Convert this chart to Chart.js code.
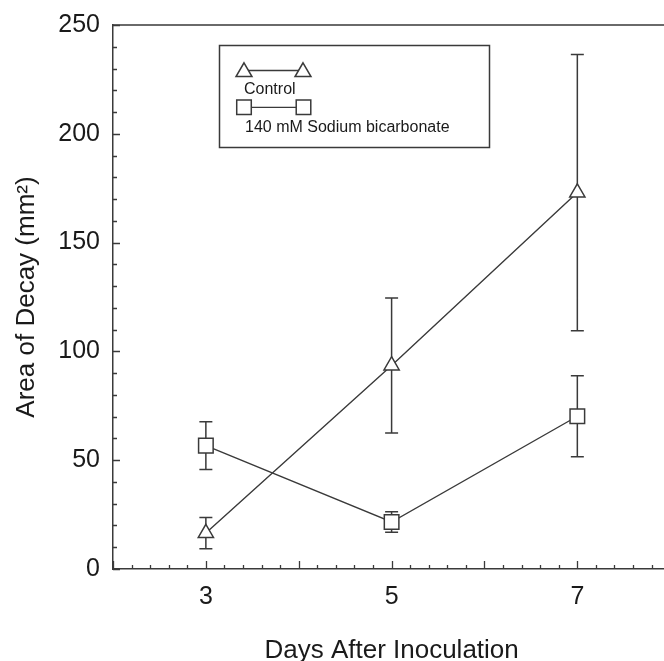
<!DOCTYPE html>
<html><head><meta charset="utf-8">
<script src="https://cdn.jsdelivr.net/npm/chart.js@4/dist/chart.umd.min.js"></script>
<style>
html,body{margin:0;padding:0;overflow:hidden;background:#fff;width:664px;height:661px}
#wrap{position:relative;width:682px;height:661px}
canvas{display:block}
</style></head><body>
<div id="wrap"><canvas id="c" width="682" height="661"></canvas></div>
<script>
// ---- data ----
const days = [3, 5, 7];
const xTickLabels = [3, 5, 7];
const yTickValues = [0, 50, 100, 150, 200, 250];
const controlMean = [16.5, 93.5, 173];
const controlSD = [7.2, 31, 63.5];
const bicarbMean = [56.7, 21.6, 70.2];
const bicarbSD = [11, 4.7, 18.6];
const seriesNames = ['Control', '140 mM Sodium bicarbonate'];
const xTitle = 'Days After Inoculation';
const yTitle = 'Area of Decay (mm\u00B2)';

const FONT = "'Liberation Sans', Arial, Helvetica, sans-serif";
const INK = '#1a1a1a';
const LINE = '#3a3a3a';

const toPts = (xs, ys) => xs.map((x, i) => ({x: x, y: ys[i]}));

const errorBars = {
  id: 'errorBars',
  beforeDatasetsDraw(chart) {
    const {ctx, scales: {x, y}} = chart;
    chart.data.datasets.forEach(ds => {
      ctx.save();
      ctx.strokeStyle = LINE;
      ctx.lineWidth = 1.5;
      ctx.beginPath();
      ds.data.forEach((p, j) => {
        const px = x.getPixelForValue(p.x);
        const top = y.getPixelForValue(p.y + ds.sd[j]);
        const bot = y.getPixelForValue(p.y - ds.sd[j]);
        ctx.moveTo(px, top); ctx.lineTo(px, bot);
        ctx.moveTo(px - 6.5, top); ctx.lineTo(px + 6.5, top);
        ctx.moveTo(px - 6.5, bot); ctx.lineTo(px + 6.5, bot);
      });
      ctx.stroke();
      ctx.restore();
    });
  }
};

const frameTicks = {
  id: 'frameTicks',
  beforeDatasetsDraw(chart) {
    const {ctx, chartArea: a, scales: {x, y}} = chart;
    ctx.save();
    ctx.strokeStyle = LINE;
    ctx.lineWidth = 1.5;
    ctx.beginPath();
    ctx.moveTo(a.left, a.top); ctx.lineTo(a.right, a.top); ctx.lineTo(a.right, a.bottom);
    ctx.stroke();
    ctx.lineWidth = 1.3;
    ctx.beginPath();
    const nx = Math.round((x.max - x.min) / 0.2);
    for (let k = 0; k <= nx; k++) {
      const v = x.min + k * 0.2;
      const px = Math.round(x.getPixelForValue(v)) + 0.5;
      const len = (k % 5 === 0) ? 8 : 4;
      ctx.moveTo(px, a.bottom); ctx.lineTo(px, a.bottom - len);
    }
    const ny = Math.round((y.max - y.min) / 10);
    for (let k = 0; k <= ny; k++) {
      const v = y.min + k * 10;
      const py = Math.round(y.getPixelForValue(v)) + 0.5;
      const len = (k % 5 === 0) ? 7 : 4;
      ctx.moveTo(a.left, py); ctx.lineTo(a.left + len, py);
    }
    ctx.stroke();
    ctx.restore();
  }
};

const boxLegend = {
  id: 'boxLegend',
  afterDatasetsDraw(chart) {
    const {ctx} = chart;
    ctx.save();
    ctx.strokeStyle = LINE;
    ctx.lineWidth = 1.5;
    ctx.strokeRect(219.5, 45.5, 270, 102);
    const rows = [{ly: 70.5, ty: 94, x1: 244, x2: 303, tx: 244},
                  {ly: 107.3, ty: 131.5, x1: 244, x2: 303.5, tx: 245}];
    chart.data.datasets.forEach((ds, i) => {
      const r = rows[i];
      ctx.strokeStyle = LINE;
      ctx.lineWidth = 1.3;
      ctx.beginPath(); ctx.moveTo(r.x1, r.ly); ctx.lineTo(r.x2, r.ly); ctx.stroke();
      ctx.fillStyle = '#fff';
      ctx.lineWidth = ds.pointBorderWidth;
      const isTri = ds.pointStyle === 'triangle';
      const opts = {pointStyle: ds.pointStyle, radius: isTri ? 9.2 : ds.pointRadius, borderWidth: ds.pointBorderWidth, rotation: 0};
      const dy = isTri ? 1.5 : 0;
      Chart.helpers.drawPoint(ctx, opts, r.x1, r.ly + dy);
      Chart.helpers.drawPoint(ctx, opts, r.x2, r.ly + dy);
      ctx.fillStyle = INK;
      ctx.font = '16px ' + FONT;
      ctx.textBaseline = 'alphabetic';
      ctx.textAlign = 'left';
      ctx.fillText(ds.label, r.tx, r.ty);
    });
    ctx.restore();
  }
};

new Chart(document.getElementById('c'), {
  type: 'scatter',
  data: {
    datasets: [
      {
        label: seriesNames[0],
        data: toPts(days, controlMean),
        sd: controlSD,
        showLine: true, tension: 0,
        borderColor: LINE, borderWidth: 1.4,
        pointStyle: 'triangle', pointRadius: 8.8, pointBorderWidth: 1.5,
        pointBackgroundColor: '#fff', pointBorderColor: LINE
      },
      {
        label: seriesNames[1],
        data: toPts(days, bicarbMean),
        sd: bicarbSD,
        showLine: true, tension: 0,
        borderColor: LINE, borderWidth: 1.4,
        pointStyle: 'rect', pointRadius: 10.3, pointBorderWidth: 1.5,
        pointBackgroundColor: '#fff', pointBorderColor: LINE
      }
    ]
  },
  options: {
    responsive: false,
    devicePixelRatio: 1,
    animation: false,
    events: [],
    layout: {padding: {top: 25, right: 1.5, left: 0, bottom: 0}},
    plugins: {legend: {display: false}, tooltip: {enabled: false}},
    scales: {
      x: {
        type: 'linear', position: 'bottom', min: 2, max: 8,
        afterFit: s => { s.height = 92; s.paddingLeft = 0; s.paddingRight = 0; },
        grid: {display: false, drawTicks: false},
        border: {display: true, color: LINE, width: 1.5},
        ticks: {
          stepSize: 1, autoSkip: false, maxRotation: 0, padding: 0,
          color: INK, font: {family: FONT, size: 25, lineHeight: '56px'},
          callback: v => xTickLabels.includes(v) ? String(v) : ''
        },
        title: {display: true, text: xTitle, color: INK,
                font: {family: FONT, size: 26, lineHeight: 1},
                padding: {top: 0, bottom: -3}}
      },
      y: {
        type: 'linear', position: 'left', min: 0, max: 250,
        afterFit: s => { s.width = 113; s.paddingTop = 0; s.paddingBottom = 0; },
        afterBuildTicks: s => { s.ticks = yTickValues.map(v => ({value: v})); },
        grid: {display: false, drawTicks: false},
        border: {display: true, color: LINE, width: 1.5},
        ticks: {
          padding: 13, color: INK, font: {family: FONT, size: 25}
        },
        title: {display: true, text: yTitle, color: INK,
                font: {family: FONT, size: 26, lineHeight: 1},
                padding: {top: 14, bottom: 0}}
      }
    }
  },
  plugins: [frameTicks, errorBars, boxLegend]
});
</script>
</body></html>
